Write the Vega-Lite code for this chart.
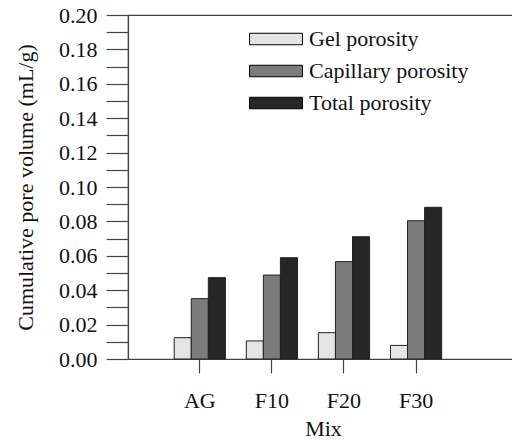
{
  "$schema": "https://vega.github.io/schema/vega-lite/v6.json",
  "width": 390,
  "height": 344,
  "autosize": "none",
  "padding": {"left": 128, "top": 15, "right": 0, "bottom": 86},
  "background": "white",
  "config": {
    "font": "Liberation Serif",
    "view": {"stroke": "#444", "strokeWidth": 1.2},
    "axis": {
      "labelFont": "Liberation Serif",
      "titleFont": "Liberation Serif",
      "labelFontSize": 22,
      "titleFontSize": 22,
      "titleFontWeight": "normal",
      "labelColor": "#111",
      "titleColor": "#111",
      "domainColor": "#444",
      "tickColor": "#444",
      "domainWidth": 1.2,
      "tickWidth": 1.2,
      "grid": false
    },
    "legend": {
      "labelFont": "Liberation Serif",
      "labelFontSize": 22,
      "labelColor": "#111"
    }
  },
  "data": {
    "values": [
      {"mix": "AG", "type": "Gel porosity", "value": 0.0124},
      {"mix": "AG", "type": "Capillary porosity", "value": 0.0351},
      {"mix": "AG", "type": "Total porosity", "value": 0.0473},
      {"mix": "F10", "type": "Gel porosity", "value": 0.0105},
      {"mix": "F10", "type": "Capillary porosity", "value": 0.0488},
      {"mix": "F10", "type": "Total porosity", "value": 0.0589},
      {"mix": "F20", "type": "Gel porosity", "value": 0.0153},
      {"mix": "F20", "type": "Capillary porosity", "value": 0.0566},
      {"mix": "F20", "type": "Total porosity", "value": 0.0711},
      {"mix": "F30", "type": "Gel porosity", "value": 0.0079},
      {"mix": "F30", "type": "Capillary porosity", "value": 0.0804},
      {"mix": "F30", "type": "Total porosity", "value": 0.0882}
    ]
  },
  "mark": {"type": "bar", "stroke": "#222", "strokeWidth": 1},
  "encoding": {
    "x": {
      "field": "mix",
      "type": "nominal",
      "sort": ["AG", "F10", "F20", "F30"],
      "scale": {"paddingInner": 0.29, "paddingOuter": 0.85, "align": 0.377},
      "axis": {
        "title": "Mix",
        "labelAngle": 0,
        "tickSize": 14,
        "labelPadding": 17,
        "titlePadding": 7
      }
    },
    "xOffset": {
      "field": "type",
      "type": "nominal",
      "sort": ["Gel porosity", "Capillary porosity", "Total porosity"]
    },
    "y": {
      "field": "value",
      "type": "quantitative",
      "scale": {"domain": [0, 0.2], "nice": false},
      "axis": {
        "title": "Cumulative pore volume (mL/g)",
        "values": [0, 0.01, 0.02, 0.03, 0.04, 0.05, 0.06, 0.07, 0.08, 0.09, 0.1, 0.11, 0.12, 0.13, 0.14, 0.15, 0.16, 0.17, 0.18, 0.19, 0.2],
        "labelExpr": "round(datum.value*100) % 2 === 0 ? format(datum.value, '.2f') : ''",
        "tickSize": 22,
        "labelPadding": 9,
        "titlePadding": 21,
        "labelFlush": false,
        "labelOverlap": false,
        "encode": {
          "ticks": {
            "update": {
              "x2": {"signal": "round(datum.value*100) % 2 === 0 ? -22 : -11"}
            }
          }
        }
      }
    },
    "fill": {
      "field": "type",
      "type": "nominal",
      "sort": ["Gel porosity", "Capillary porosity", "Total porosity"],
      "scale": {
        "domain": ["Gel porosity", "Capillary porosity", "Total porosity"],
        "range": ["#e4e4e4", "#7c7c7c", "#262626"]
      },
      "legend": {
        "title": null,
        "orient": "none",
        "legendX": 136,
        "legendY": 12,
        "padding": 0,
        "symbolType": "M-2.3,-0.5L2.3,-0.5L2.3,0.5L-2.3,0.5Z",
        "symbolSize": 529,
        "symbolStrokeColor": "#000",
        "symbolStrokeWidth": 1,
        "symbolOpacity": 1,
        "labelOffset": 21,
        "rowPadding": 9
      }
    }
  }
}
